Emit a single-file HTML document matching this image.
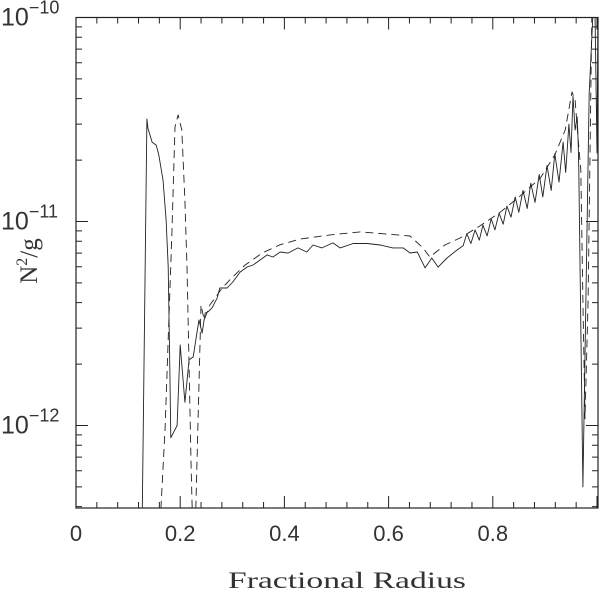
<!DOCTYPE html>
<html><head><meta charset="utf-8"><style>
html,body{margin:0;padding:0;background:#fff}
svg{display:block}
text{font-family:"Liberation Sans",sans-serif;fill:#333}
</style></head><body>
<svg id="chart" width="602" height="591" viewBox="0 0 602 591" xmlns="http://www.w3.org/2000/svg">
<defs><clipPath id="clip"><rect x="76" y="17.5" width="522" height="490.5"/></clipPath></defs>
<g id="axes"></g>
<g id="series" clip-path="url(#clip)"></g>
<text x="347" y="588" text-anchor="middle" font-size="23" textLength="238" lengthAdjust="spacingAndGlyphs" style="font-family:'Liberation Serif',serif">Fractional Radius</text>
<text transform="translate(37,261) rotate(-90)" text-anchor="middle" font-size="25" style="font-family:'Liberation Serif',serif">N<tspan dy="-10" font-size="16">2</tspan><tspan dy="10">/g</tspan></text>
</svg>
<script>
// x values (fractional radius) and y values (N^2/g in units of 1e-12)
const solidX = [0.127,0.136,0.138,0.146,0.154,0.159,0.167,0.173,0.177,0.180,0.182,0.194,0.200,0.209,0.217,0.225,0.232,0.236,0.242,0.248,0.253,0.261,0.271,0.276,0.290,0.301,0.315,0.328,0.340,0.367,0.378,0.392,0.407,0.426,0.443,0.455,0.472,0.493,0.507,0.532,0.559,0.584,0.608,0.628,0.641,0.655,0.670,0.683,0.695,0.712,0.731,0.743,0.750,0.758,0.766,0.774,0.781,0.789,0.797,0.804,0.812,0.820,0.827,0.835,0.843,0.850,0.858,0.866,0.873,0.881,0.889,0.896,0.904,0.912,0.919,0.927,0.935,0.940,0.946,0.950,0.954,0.958,0.962,0.964,0.965,0.973,0.985,0.992,0.996,1.000,1.002];
const solidY = [0.35,31.8,28.7,24.5,23.7,21.2,16.0,10.2,6.0,1.94,0.87,1.0,2.48,1.30,2.10,2.17,2.84,3.29,2.84,3.56,3.60,3.77,4.22,4.72,4.72,5.05,5.65,5.98,6.12,6.86,6.7,7.09,7.0,7.42,7.09,7.67,7.42,7.85,7.42,7.8,7.8,7.67,7.42,7.42,7.01,7.09,5.92,6.62,5.98,6.62,7.24,7.6,8.7,7.8,9.1,8.1,9.6,8.5,10.3,9.1,11.0,9.7,11.9,10.5,13.2,11.1,14.2,11.6,15.4,12.4,17.0,13.2,18.8,14.2,21.5,15.6,24.5,17.4,30.0,21.8,41.2,28.1,32.5,24.3,17.9,0.50,42.6,100.5,115,21.7,115];
const dashX = [0.163,0.171,0.184,0.190,0.196,0.203,0.209,0.213,0.217,0.221,0.223,0.230,0.240,0.246,0.257,0.267,0.280,0.296,0.324,0.357,0.392,0.430,0.488,0.545,0.593,0.641,0.666,0.679,0.708,0.737,0.775,0.814,0.852,0.891,0.919,0.939,0.952,0.958,0.964,0.969,0.973,0.977,0.983,0.990,0.996];
const dashY = [0.39,0.97,8.79,29.1,33.3,28.1,12.7,5.98,1.94,0.63,0.39,0.39,3.9,3.29,3.9,4.22,4.7,5.2,6.1,7.0,7.7,8.2,8.6,8.89,8.69,8.49,7.42,6.7,7.67,8.3,9.5,11.1,13.3,16.3,21.2,28.1,43.2,39.4,25.1,17.9,4.1,1.08,4.1,100,115];
const xTicks = [0,0.2,0.4,0.6,0.8];
const xTickLabels = ["0","0.2","0.4","0.6","0.8"];
const yDecades = [-10,-11,-12];
const yDecadeLabels = ["\u221210","\u221211","\u221212"];

const X0=76, XS=521, Y0=17.5, YD=204, L=76, R=598, T=17.5, B=508;
function xs(x){return X0+x*XS;}
function ys(v){ return Y0 + (-10 - Math.log10(v*1e-12))*YD; }
const NS="http://www.w3.org/2000/svg";
function mk(tag,attrs,parent){const e=document.createElementNS(NS,tag);for(const k in attrs)e.setAttribute(k,attrs[k]);parent.appendChild(e);return e;}
const axes=document.getElementById('axes');
const frame=mk('rect',{x:L,y:T,width:R-L,height:B-T,fill:'none',stroke:'#222','stroke-width':1.2},axes);


let d='';
for(let i=0;i<=25;i++){const x=i*0.04;const px=xs(x);if(px>R)break;const len=(i%5===0)?12:6;d+=`M${px},${B}V${B-len}M${px},${T}V${T+len}`;}
for(let e=-13;e<=-10;e++){for(let m=1;m<=9;m++){const v=m*Math.pow(10,e)*1e12;const py=ys(v);if(py<T-0.1||py>B)continue;const len=(m===1)?12:6;d+=`M${L},${py}H${L+len}M${R},${py}H${R-len}`;}}
const ticks=mk('path',{d:d,stroke:'#222','stroke-width':1,fill:'none'},axes);


xTicks.forEach((t,i)=>{const tx=mk('text',{x:xs(t),y:541,'text-anchor':'middle','font-size':22},axes);tx.textContent=xTickLabels[i];

});
yDecades.forEach((e,i)=>{const py=Y0+(-10-e)*YD;const tx=mk('text',{x:1,y:py+8,'font-size':25},axes);


const a=mk('tspan',{},tx);a.textContent='10';const b=mk('tspan',{dy:-12,'font-size':18},tx);b.textContent=yDecadeLabels[i];});
const series=document.getElementById('series');
function line(xa,ya,dash,name){let p='';xa.forEach((x,i)=>{p+=(i?'L':'M')+xs(x).toFixed(1)+','+ys(ya[i]).toFixed(1);});
const el=mk('path',{d:p,fill:'none',stroke:'#222','stroke-width':0.9,'stroke-linejoin':'round'},series);if(dash)el.setAttribute('stroke-dasharray',dash);

}
line(solidX,solidY,null,'solid-series');
line(dashX,dashY,'8,5','dashed-series');
</script>
</body></html>
